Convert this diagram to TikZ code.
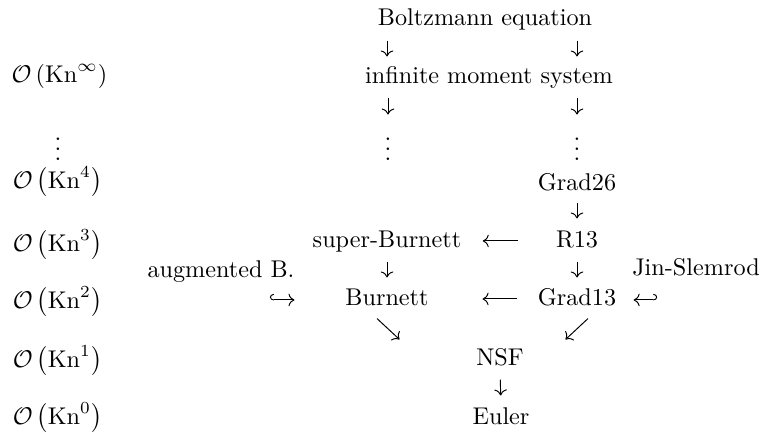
\documentclass[tikz,border=0pt]{standalone}
\usepackage{amsmath}
\usetikzlibrary{calc,arrows.meta}
\newlength\pxu
\setlength\pxu{0.4132pt}
\begin{document}
\begin{tikzpicture}[x=0.4132pt,y=-0.4132pt,
  lbl/.style={inner sep=0pt, anchor=base, text height=7pt, text depth=2pt},
  dts/.style={inner sep=0pt, anchor=base, text height=9pt, text depth=0pt},
  arr/.style={-{Computer Modern Rightarrow}, line width=0.4pt},
  hookr/.style={{Hooks[right,length=1.6pt,width=5pt]}-{Computer Modern Rightarrow}, line width=0.4pt},
  hookl/.style={{Hooks[left,length=1.6pt,width=5pt]}-{Computer Modern Rightarrow}, line width=0.4pt}]
\useasboundingbox (0,0) rectangle (761,435);
% middle nodes
\node[lbl] (boltz) at (485,25) {Boltzmann equation};
\node[lbl] (inf) at (489,83) {infinite moment system};
\node[dts] (vdl) at (388,160) {$\vdots$};
\node[dts] (vdr) at (577,160) {$\vdots$};
\node[lbl] (g26) at (577,190) {Grad26};
\node[lbl] (sb) at (387,247) {super-Burnett};
\node[lbl] (r13) at (577,247) {R13};
\node[lbl] (aug) at (221,277) {augmented B.};
\node[lbl] (jin) at (696,275) {Jin-Slemrod};
\node[lbl] (bur) at (387,305) {Burnett};
\node[lbl] (g13) at (577,305) {Grad13};
\node[lbl] (nsf) at (500,365) {NSF};
\node[lbl] (euler) at (501,424) {Euler};
% left column
\node[lbl] (oinf) at (59.5,82) {$\mathcal{O}\,(\mathrm{Kn}^{\infty})$};
\node[dts] (vdo) at (58,160) {$\vdots$};
\node[lbl] (o4) at (57.5,188) {$\mathcal{O}\left(\mathrm{Kn}^{4}\right)$};
\node[lbl] (o3) at (57.5,251) {$\mathcal{O}\left(\mathrm{Kn}^{3}\right)$};
\node[lbl] (o2) at (57.5,308) {$\mathcal{O}\left(\mathrm{Kn}^{2}\right)$};
\node[lbl] (o1) at (57.5,367) {$\mathcal{O}\left(\mathrm{Kn}^{1}\right)$};
\node[lbl] (o0) at (57.5,424) {$\mathcal{O}\left(\mathrm{Kn}^{0}\right)$};
% vertical arrows
\draw[arr, shorten <=10.2\pxu, shorten >=9.1\pxu] (boltz.south -| sb.center) -- (inf.north -| sb.center);
\draw[arr, shorten <=10.2\pxu, shorten >=9.1\pxu] (boltz.south -| r13.center) -- (inf.north -| r13.center);
\draw[arr, shorten <=9.2\pxu, shorten >=23.2\pxu] (inf.south -| vdl.center) -- (vdl.north);
\draw[arr, shorten <=9.2\pxu, shorten >=23.2\pxu] (inf.south -| vdr.center) -- (vdr.north);
\draw[arr, shorten <=7.2\pxu, shorten >=11.1\pxu] (g26) -- (r13);
\draw[arr, shorten <=9.2\pxu, shorten >=10.1\pxu] (sb) -- (bur);
\draw[arr, shorten <=9.2\pxu, shorten >=10.1\pxu] (r13) -- (g13);
\draw[arr, shorten <=9.2\pxu, shorten >=11.1\pxu] (nsf) -- (euler);
% horizontal arrows
\draw[arr, shorten <=38\pxu, shorten >=21\pxu] (r13.west) -- (sb.east);
\draw[arr, shorten <=20\pxu, shorten >=53.5\pxu] (g13.west) -- (bur.east);
% diagonal arrows
\draw[arr] ($(bur.south)+(-10,8.2)$) -- ($(nsf.north west)+(-76.3,-8.1)$);
\draw[arr] ($(g13.south)+(11,8.2)$) -- ($(nsf.north east)+(41.3,-8.1)$);
% hooked arrows
\draw[hookr] ($(aug.south east |- bur.west)+(-25,1)$) -- ($(bur.west)+(-50.5,1)$);
\draw[hookl] ($(jin.west |- g13.east)+(25.4,1)$) -- ($(g13.east)+(17,1)$);
\end{tikzpicture}
\end{document}
